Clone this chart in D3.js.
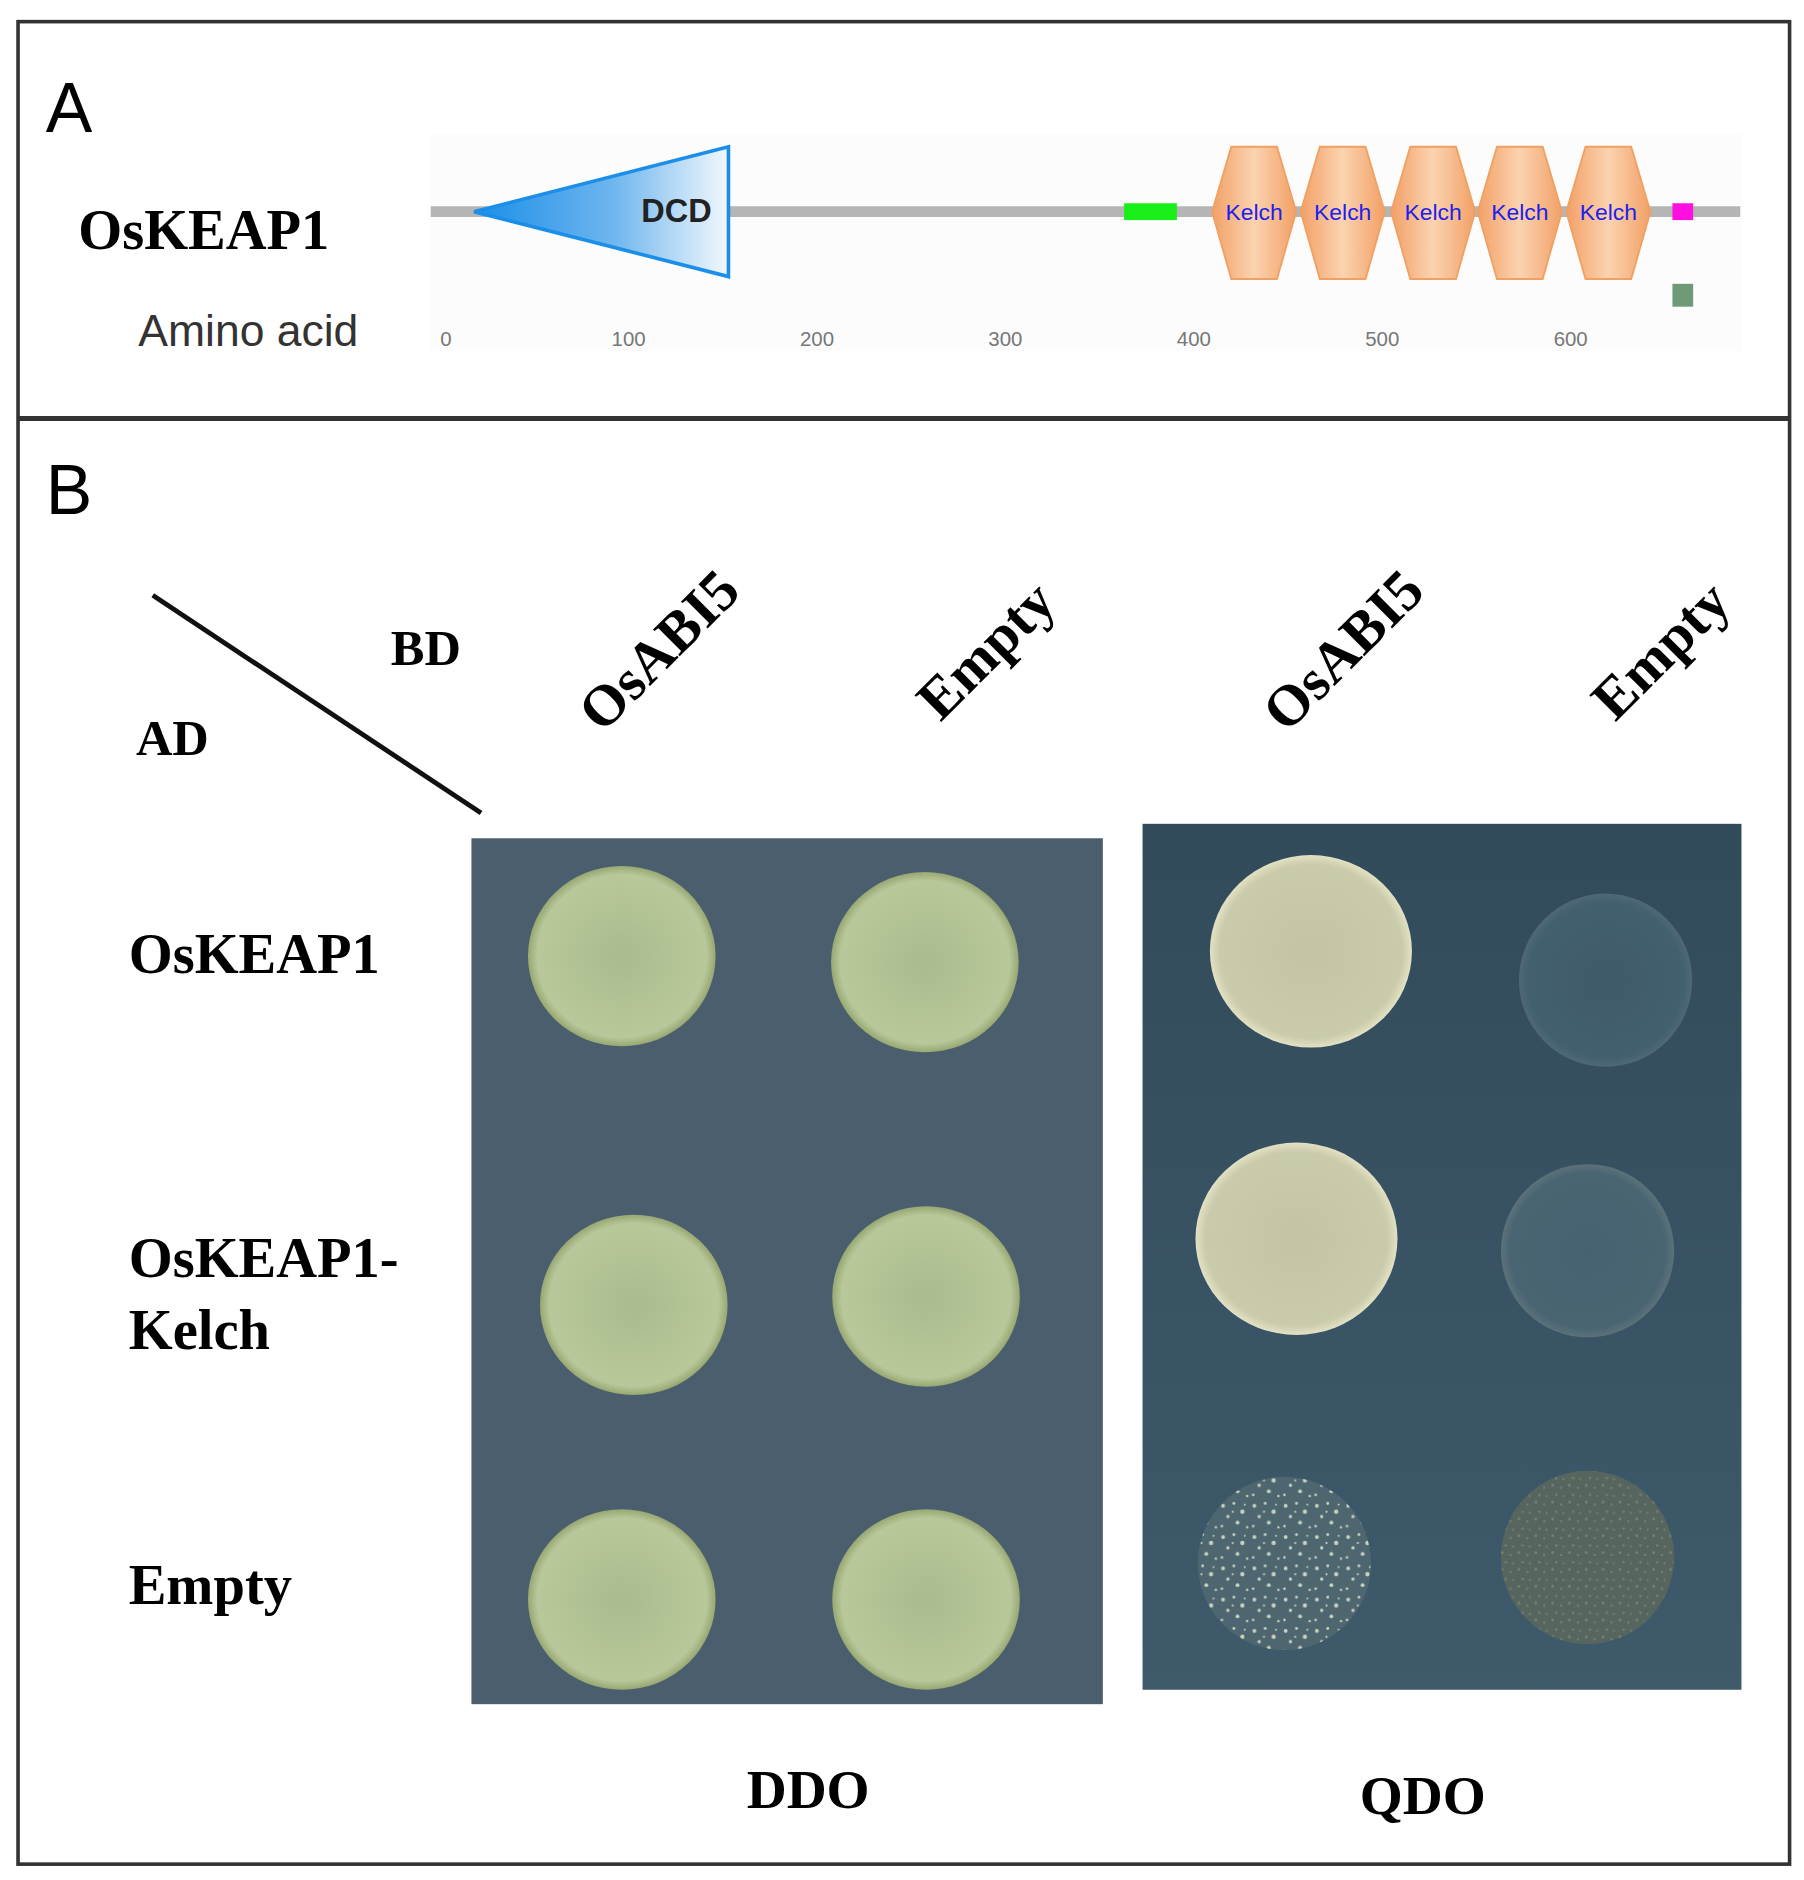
<!DOCTYPE html>
<html><head><meta charset="utf-8">
<script src="https://cdn.jsdelivr.net/npm/d3@7"></script>
<style>body{margin:0;background:#fff}svg{display:block}</style>
</head><body>
<script>
// ---- data ----
const aaTicks = [0,100,200,300,400,500,600];
const dcdDomain = [18,153];
const coiledCoil = [363,391];
const kelchCenters = [432,479,527,573,620];
const kelchLabels = ["Kelch","Kelch","Kelch","Kelch","Kelch"];
const magentaSite = [654,665];
const bdLabels = ["OsABI5","Empty","OsABI5","Empty"];
const adLabels = ["OsKEAP1","OsKEAP1-\nKelch","Empty"];
const media = ["DDO","QDO"];
// growth: 1 strong, 0.5 speckled, 0.4 grainy, <0.3 faint
const growthDDO = [[1,1],[1,1],[1,1]];
const growthQDO = [[1,0.1],[1,0.2],[0.5,0.4]];

const W=1804,H=1880,s=1804/1500;
const svg=d3.select("body").append("svg").attr("width",W).attr("height",H)
  .attr("viewBox",`0 0 1500 ${H/s}`);
const defs=svg.append("defs");
const serif="'Liberation Serif','Times New Roman',serif", sans="'Liberation Sans',Arial,sans-serif";

svg.append("rect").attr("x",15).attr("y",18).attr("width",1473).attr("height",1532)
  .attr("fill","none").attr("stroke","#333").attr("stroke-width",3);
svg.append("line").attr("x1",15).attr("x2",1488).attr("y1",348).attr("y2",348).attr("stroke","#333").attr("stroke-width",4);

// ---- panel A ----
svg.append("text").attr("x",38).attr("y",110).attr("font-family",sans).attr("font-size",58).text("A");
svg.append("text").attr("x",65).attr("y",207).attr("font-family",serif).attr("font-weight","bold").attr("font-size",47).text("OsKEAP1");
svg.append("text").attr("x",115).attr("y",288).attr("font-family",sans).attr("font-size",37).attr("fill","#333").text("Amino acid");

const x=d3.scaleLinear().domain([0,600]).range([366,1306]);
const ty=176;
svg.append("rect").attr("x",358).attr("y",112).attr("width",1090).attr("height",180).attr("fill","#fcfcfc");
svg.append("line").attr("x1",x(-5)).attr("x2",x(690)).attr("y1",ty).attr("y2",ty).attr("stroke","#b5b5b5").attr("stroke-width",9);

const lg=defs.append("linearGradient").attr("id","dcd");
lg.append("stop").attr("offset","0%").attr("stop-color","#1a8ee8");
lg.append("stop").attr("offset","55%").attr("stop-color","#6fb6ee");
lg.append("stop").attr("offset","100%").attr("stop-color","#f3f8fd");
svg.append("path").attr("d",`M${x(dcdDomain[0])},${ty} L${x(dcdDomain[1])},122 L${x(dcdDomain[1])},230 Z`)
  .attr("fill","url(#dcd)").attr("stroke","#1a8ee8").attr("stroke-width",3);
svg.append("text").attr("x",x(dcdDomain[1])-14).attr("y",ty+9).attr("text-anchor","end")
  .attr("font-family",sans).attr("font-weight","bold").attr("font-size",27).attr("fill","#222").text("DCD");
svg.append("rect").attr("x",x(coiledCoil[0])).attr("y",169).attr("width",x(coiledCoil[1])-x(coiledCoil[0])).attr("height",14).attr("fill","#18ee18");

const kg=defs.append("linearGradient").attr("id","kelch");
kg.append("stop").attr("offset","0%").attr("stop-color","#f2a066");
kg.append("stop").attr("offset","50%").attr("stop-color","#fbd3b0");
kg.append("stop").attr("offset","100%").attr("stop-color","#f2a066");
kelchCenters.forEach((c,i)=>{
  const cx=x(c),hw=35,y0=122,y1=232;
  svg.append("path").attr("d",`M${cx-hw},${ty} L${cx-hw+16},${y0} L${cx+hw-16},${y0} L${cx+hw},${ty} L${cx+hw-16},${y1} L${cx-hw+16},${y1} Z`)
    .attr("fill","url(#kelch)").attr("stroke","#f0a060").attr("stroke-width",1.5);
  svg.append("text").attr("x",cx).attr("y",ty+7).attr("text-anchor","middle").attr("font-family",sans)
    .attr("font-size",19).attr("fill","#2020ee").text(kelchLabels[i]);
});
svg.append("rect").attr("x",x(magentaSite[0])).attr("y",169).attr("width",x(magentaSite[1])-x(magentaSite[0])).attr("height",14).attr("fill","#ff10e0");
svg.append("rect").attr("x",x(magentaSite[0])).attr("y",236).attr("width",x(magentaSite[1])-x(magentaSite[0])).attr("height",19).attr("fill","#6f9a78");
const ax=svg.append("g").attr("transform","translate(0,288)");
aaTicks.forEach(t=>ax.append("text").attr("x",x(t)).attr("y",0).attr("text-anchor",t===0?"start":"middle")
  .attr("font-family",sans).attr("font-size",17).attr("fill","#777").text(t));

// ---- panel B ----
svg.append("text").attr("x",38).attr("y",427).attr("font-family",sans).attr("font-size",58).text("B");
svg.append("line").attr("x1",127).attr("y1",495).attr("x2",400).attr("y2",676).attr("stroke","#111").attr("stroke-width",4);
svg.append("text").attr("x",325).attr("y",553).attr("font-family",serif).attr("font-weight","bold").attr("font-size",42).text("BD");
svg.append("text").attr("x",113).attr("y",628).attr("font-family",serif).attr("font-weight","bold").attr("font-size",42).text("AD");

const colX=[517,769,1086,1330];
bdLabels.forEach((l,i)=>{
  svg.append("text").attr("transform",`translate(${colX[i]+(i%2?62:42)},${552}) rotate(-45)`).attr("text-anchor","middle")
    .attr("font-family",serif).attr("font-weight","bold").attr("font-size",48).text(l);
});
const rowY=[795,1080,1320];
adLabels.forEach((l,i)=>{
  const lines=l.split("\n");
  lines.forEach((ln,j)=>svg.append("text").attr("x",107).attr("y",lines.length>1?1062+j*60:rowY[i]+14)
    .attr("font-family",serif).attr("font-weight","bold").attr("font-size",47).text(ln));
});

svg.append("rect").attr("x",392).attr("y",697).attr("width",525).attr("height",720).attr("fill","#4a5e6d");
const qg=defs.append("linearGradient").attr("id","qdo").attr("x1",0).attr("y1",0).attr("x2",0).attr("y2",1);
qg.append("stop").attr("offset","0%").attr("stop-color","#324b5b");
qg.append("stop").attr("offset","100%").attr("stop-color","#3e5a6b");
svg.append("rect").attr("x",950).attr("y",685).attr("width",498).attr("height",720).attr("fill","url(#qdo)");

function grad(id,c1,c2,edge){
  const g=defs.append("radialGradient").attr("id",id);
  g.append("stop").attr("offset","0%").attr("stop-color",c1);
  g.append("stop").attr("offset","90%").attr("stop-color",c2);
  g.append("stop").attr("offset","100%").attr("stop-color",edge);
}
grad("gd","#a9bb8f","#b8c89a","#98a872");
grad("gq","#c4c4a2","#cacbaa","#e2e1c4");
grad("gf","#3f5a69","#42606e","#4f6876");
grad("gf2","#466170","#4a6572","#5c727a");

const sp=defs.append("pattern").attr("id","speck").attr("width",26).attr("height",26).attr("patternUnits","userSpaceOnUse");
sp.append("rect").attr("width",26).attr("height",26).attr("fill","#4e6670");
[[3,4,1.6],[12,2,1.2],[19,9,1.8],[7,13,1.4],[15,18,1.6],[2,21,1.1],[23,22,1],[11,9,0.9],[21,3,0.8]].forEach(d=>
  sp.append("circle").attr("cx",d[0]).attr("cy",d[1]).attr("r",d[2]).attr("fill","#c9d1bf"));
const sp2=defs.append("pattern").attr("id","grain").attr("width",14).attr("height",14).attr("patternUnits","userSpaceOnUse");
sp2.append("rect").attr("width",14).attr("height",14).attr("fill","#56665f");
[[3,3,1.1],[10,5,0.9],[6,11,1],[12,12,0.8]].forEach(d=>
  sp2.append("circle").attr("cx",d[0]).attr("cy",d[1]).attr("r",d[2]).attr("fill","#7b8470"));

const ddoPos=[[[517,795],[769,800]],[[527,1085],[770,1078]],[[517,1330],[770,1330]]];
const qdoPos=[[[1090,791],[1335,815]],[[1078,1030],[1320,1040]],[[1068,1300],[1320,1295]]];
growthDDO.forEach((r,i)=>r.forEach((g,j)=>{
  const [cx,cy]=ddoPos[i][j];
  svg.append("ellipse").attr("cx",cx).attr("cy",cy).attr("rx",78).attr("ry",75).attr("fill","url(#gd)");
}));
growthQDO.forEach((r,i)=>r.forEach((g,j)=>{
  const [cx,cy]=qdoPos[i][j];
  const fill=g>=1?"url(#gq)":g>=0.5?"url(#speck)":g>=0.3?"url(#grain)":(g>=0.2?"url(#gf2)":"url(#gf)");
  svg.append("ellipse").attr("cx",cx).attr("cy",cy).attr("rx",g>=1?84:72).attr("ry",g>=1?80:72).attr("fill",fill);
}));

media.forEach((m,i)=>svg.append("text").attr("x",[672,1183][i]).attr("y",[1503,1508][i]).attr("text-anchor","middle")
  .attr("font-family",serif).attr("font-weight","bold").attr("font-size",46).text(m));
</script>
</body></html>
